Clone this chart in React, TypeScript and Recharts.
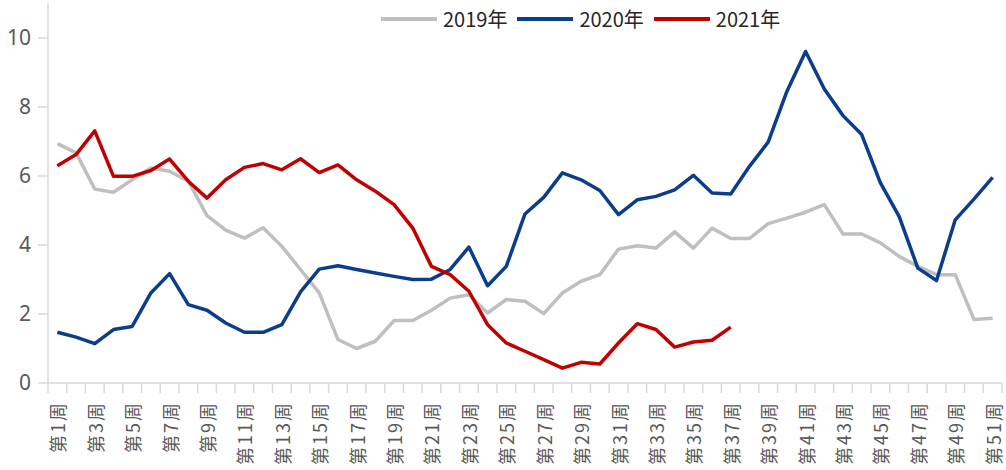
import React from 'react';
import { LineChart, Line, XAxis, YAxis, Legend } from 'recharts';

const weeks = [
  '第1周', '第2周', '第3周', '第4周', '第5周', '第6周', '第7周', '第8周', '第9周', '第10周',
  '第11周', '第12周', '第13周', '第14周', '第15周', '第16周', '第17周', '第18周', '第19周', '第20周',
  '第21周', '第22周', '第23周', '第24周', '第25周', '第26周', '第27周', '第28周', '第29周', '第30周',
  '第31周', '第32周', '第33周', '第34周', '第35周', '第36周', '第37周', '第38周', '第39周', '第40周',
  '第41周', '第42周', '第43周', '第44周', '第45周', '第46周', '第47周', '第48周', '第49周', '第50周',
  '第51周',
];

const y2019 = [
  6.94, 6.67, 5.62, 5.53, 5.89, 6.23, 6.14, 5.85, 4.85, 4.43, 4.2, 4.5, 3.96, 3.29, 2.61, 1.26,
  1.0, 1.21, 1.81, 1.81, 2.11, 2.46, 2.56, 2.03, 2.42, 2.37, 2.01, 2.61, 2.95, 3.14, 3.88, 3.98, 3.91,
  4.38, 3.91, 4.49, 4.19, 4.19, 4.62, 4.78, 4.95, 5.17, 4.32, 4.32, 4.06, 3.67, 3.38, 3.14, 3.14, 1.84, 1.88,
];

const y2020 = [
  1.47, 1.33, 1.14, 1.55, 1.64, 2.61, 3.17, 2.27, 2.11, 1.74, 1.47, 1.47, 1.69, 2.64, 3.3, 3.4,
  3.29, 3.19, 3.09, 3.0, 3.01, 3.29, 3.94, 2.82, 3.38, 4.9, 5.38, 6.09, 5.89, 5.58, 4.88, 5.31, 5.41,
  5.6, 6.02, 5.51, 5.48, 6.28, 6.98, 8.45, 9.61, 8.52, 7.75, 7.2, 5.8, 4.83, 3.33, 2.97, 4.73, 5.33, 5.96,
];

const y2021 = [
  6.3, 6.62, 7.31, 5.99, 5.99, 6.16, 6.49, 5.85, 5.36, 5.89, 6.25, 6.36, 6.18, 6.5, 6.1, 6.32,
  5.89, 5.56, 5.17, 4.49, 3.38, 3.14, 2.66, 1.69, 1.16, 0.92, 0.68, 0.43, 0.6, 0.55, 1.16, 1.72, 1.55,
  1.04, 1.19, 1.24, 1.62,
];

const yTicks = [0, 2, 4, 6, 8, 10];

const data = weeks.map((w, i) => ({
  week: w,
  '2019年': y2019[i],
  '2020年': y2020[i],
  '2021年': i < y2021.length ? y2021[i] : null,
}));

const axisColor = '#d9d9d9';
const labelColor = '#595959';

// category axis with ticks between weeks (Excel style), label every other week
const WeekTick = (props: any) => {
  const { x, y, payload, index, visibleTicksCount } = props;
  const half = payload && payload.offset ? payload.offset : 9.35;
  const last = index === (visibleTicksCount ?? weeks.length) - 1;
  return (
    <g>
      <line x1={x - half} y1={y} x2={x - half} y2={y + 10} stroke={axisColor} strokeWidth={1.5} />
      {last && <line x1={x + half} y1={y} x2={x + half} y2={y + 10} stroke={axisColor} strokeWidth={1.5} />}
      {index % 2 === 0 && (
        <text
          x={0}
          y={0}
          transform={`translate(${x},${y + 18}) rotate(-90)`}
          textAnchor="end"
          dominantBaseline="central"
          fill={labelColor}
          fontSize={18}
          letterSpacing={2}
          fontFamily='"Noto Sans CJK SC", sans-serif'
        >
          {payload.value}
        </text>
      )}
    </g>
  );
};

const renderLegend = (props: any) => {
  const { payload } = props;
  return (
    <div style={{ display: 'flex', alignItems: 'center', gap: 10 }}>
      {payload.map((item: any) => (
        <div key={item.value} style={{ display: 'flex', alignItems: 'center', gap: 6 }}>
          <div style={{ width: 56, height: 4, background: item.color }} />
          <span style={{ fontSize: 20, color: '#262626', fontFamily: '"Noto Sans CJK SC", sans-serif' }}>
            {item.value}
          </span>
        </div>
      ))}
    </div>
  );
};

export default function App() {
  return (
    <div style={{ position: 'absolute', left: 0, top: 0, background: '#fff' }}>
      <LineChart width={1006} height={470} data={data} margin={{ top: 3.5, right: 4, left: 0, bottom: 0 }}>
        <XAxis
          dataKey="week"
          scale="band"
          interval={0}
          height={87}
          tickSize={0}
          tickMargin={0}
          tickLine={false}
          axisLine={{ stroke: axisColor, strokeWidth: 1.5 }}
          tick={<WeekTick />}
        />
        <YAxis
          domain={[0, 11]}
          ticks={yTicks}
          width={48}
          tickSize={10}
          tickMargin={7}
          axisLine={{ stroke: axisColor, strokeWidth: 1.5 }}
          tickLine={{ stroke: axisColor, strokeWidth: 1.5 }}
          tick={{ fill: labelColor, fontSize: 21, fontFamily: '"Noto Sans", sans-serif' }}
        />
        <Legend
          layout="vertical"
          align="center"
          verticalAlign="middle"
          content={renderLegend}
          wrapperStyle={{ left: 381, top: 4, width: 'auto' }}
        />
        <Line type="linear" dataKey="2019年" stroke="#bfbfbf" strokeWidth={3.5} dot={false} isAnimationActive={false} strokeLinejoin="round" />
        <Line type="linear" dataKey="2020年" stroke="#0b3d8c" strokeWidth={3.5} dot={false} isAnimationActive={false} strokeLinejoin="round" />
        <Line type="linear" dataKey="2021年" stroke="#c00000" strokeWidth={3.5} dot={false} isAnimationActive={false} strokeLinejoin="round" />
      </LineChart>
    </div>
  );
}
